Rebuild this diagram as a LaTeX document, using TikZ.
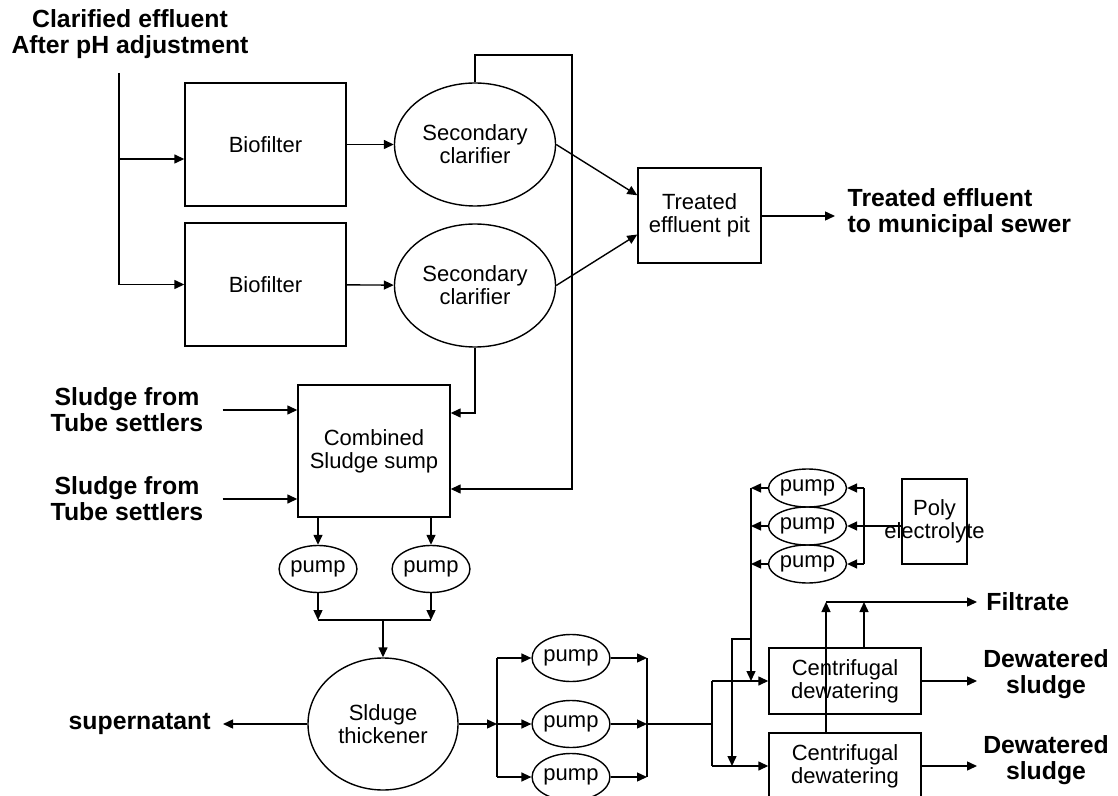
\documentclass[tikz,border=0pt]{standalone}
\usepackage{fontspec}
\setmainfont{Liberation Sans}
\usetikzlibrary{shapes.geometric,arrows.meta,calc}

\tikzset{
  box/.style={draw, rectangle, inner sep=1pt, align=center, font=\fontsize{11}{11.6}\selectfont},
  vessel/.style={draw, ellipse, inner sep=0pt, align=center, font=\fontsize{11}{11.6}\selectfont},
  pumpnode/.style={draw, ellipse, inner sep=0pt, minimum width=38pt, minimum height=23.5pt, font=\fontsize{11}{11.6}\selectfont},
  smallpump/.style={draw, ellipse, inner sep=0pt, minimum width=28.5pt, minimum height=19pt, font=\fontsize{11}{11.6}\selectfont},
  lbl/.style={align=center, font=\fontsize{12.4}{13}\selectfont\bfseries},
  flow/.style={-{Triangle[length=5pt,width=4.5pt]}}
}

\begin{document}
\begin{tikzpicture}[x=0.5pt, y=-0.5pt, line width=0.7pt]
    \useasboundingbox (0,0) rectangle (1118,796);
    \def\bfw{80.5pt}
    \def\bfh{61.5pt}
    % biological treatment
    \node[lbl] (source) at (130,34) {Clarified effluent\\After pH adjustment};
    \coordinate (feed) at (119,73);
    \node[box, minimum width=\bfw, minimum height=\bfh] (bf1) at (265.5,144.5) {Biofilter};
    \node[box, minimum width=\bfw, minimum height=\bfh] (bf2) at (265.5,284.5) {Biofilter};
    \node[vessel, minimum width=\bfw, minimum height=\bfh] (sc1) at (475,144.5) {Secondary\\clarifier};
    \node[vessel, minimum width=\bfw, minimum height=\bfh] (sc2) at (475,285.5) {Secondary\\clarifier};
    \node[box, minimum width=61.5pt, minimum height=47.5pt] (pit) at (699.5,215.5) {Treated\\effluent pit};
    \node[lbl, anchor=west, align=left, inner sep=0pt] (sewer) at (847,213) {Treated effluent\\to municipal sewer};
    \coordinate (bf1in) at ($(bf1.west)+(0,14.5)$);
    \coordinate (sewerin) at (835,216);
    \draw[flow] (feed) |- (bf2.west);
    \draw[flow] (feed |- bf1in) -- (bf1in);
    \draw[flow] (bf1) -- (sc1);
    \draw[flow] (bf2) -- (sc2);
    \draw[flow] (sc1.east) -- (pit.162);
    \draw[flow] (sc2.east) -- (pit.197);
    \draw[flow] (pit.east |- sewerin) -- (sewerin);

    % sludge handling
    \node[box, minimum width=76pt, minimum height=66pt] (sump) at (374,451) {Combined\\Sludge sump};
    \node[lbl] (tube1) at (127,410) {Sludge from\\Tube settlers};
    \node[lbl] (tube2) at (127,499) {Sludge from\\Tube settlers};
    \coordinate (topbend) at (572,55);
    \coordinate (sumpin1) at ($(sump.east)+(0,-38)$);
    \coordinate (sumpin2) at ($(sump.east)+(0,38)$);
    \draw[flow] (sc1.north) -- (sc1.north |- topbend) -- (topbend) -- (topbend |- sumpin2) -- (sumpin2);
    \draw[flow] (sc2.south) |- (sumpin1);
    \draw[flow] ([xshift=6pt]tube1.east) -- (tube1.east -| sump.west);
    \draw[flow] ([xshift=6pt]tube2.east) -- (tube2.east -| sump.west);

    \node[pumpnode] (pumpA) at (318,569) {pump};
    \node[pumpnode] (pumpB) at (431,569) {pump};
    \node[vessel, minimum width=75pt, minimum height=66pt] (thick) at (383,724) {Slduge\\thickener};
    \node[lbl, anchor=east] (super) at (218,724) {supernatant};
    \coordinate (merge) at (383,620);
    \draw[flow] (sump.south -| pumpA) -- (pumpA);
    \draw[flow] (sump.south -| pumpB) -- (pumpB);
    \draw[flow] (pumpA) -- (pumpA |- merge);
    \draw[flow] (pumpB) -- (pumpB |- merge);
    \draw (pumpA |- merge) -- (pumpB |- merge);
    \draw[flow] (merge) -- (thick);
    \draw[flow] (thick.west) -- ([xshift=2.5pt]super.east);

    % dewatering
    \node[pumpnode] (p1) at (571,658) {pump};
    \node[pumpnode] (p2) at (571,724) {pump};
    \node[pumpnode] (p3) at (571,777) {pump};
    \coordinate (split) at (497,724);
    \coordinate (collect) at (647,724);
    \coordinate (fork) at (712,724);
    \draw[flow] (thick.east) -- (split);
    \draw (split |- p1) -- (split |- p3);
    \foreach \p in {p1,p2,p3} {
      \draw[flow] (split |- \p) -- (\p);
      \draw[flow] (\p) -- (collect |- \p);
    }
    \draw (collect |- p1) -- (collect |- p3);
    \draw (collect) -- (fork);

    \node[box, minimum width=76pt, minimum height=33pt] (dw1) at (845,681) {Centrifugal\\dewatering};
    \node[box, minimum width=76pt, minimum height=33pt] (dw2) at (845,766) {Centrifugal\\dewatering};
    \draw (fork |- dw1) -- (fork |- dw2);
    \draw[flow] (fork |- dw1) -- (dw1);
    \draw[flow] (fork |- dw2) -- (dw2);

    \node[smallpump] (sp1) at (807.5,488) {pump};
    \node[smallpump] (sp2) at (807.5,526) {pump};
    \node[smallpump] (sp3) at (807.5,564) {pump};
    \node[box, minimum width=32.5pt, minimum height=42.5pt] (poly) at (934.5,521.5) {};
    \node[align=center, inner sep=0pt, font=\fontsize{11}{11.6}\selectfont] (polytext) at (poly) {Poly\\electrolyte};
    \coordinate (polybus) at (864,526);
    \coordinate (dose) at (751,639);
    \coordinate (dose2) at (732,639);
    \draw[flow] (poly.west |- sp2) -- (sp2);
    \draw (polybus |- sp1) -- (polybus |- sp3);
    \draw[flow] (polybus |- sp1) -- (sp1);
    \draw[flow] (polybus |- sp3) -- (sp3);
    \foreach \s in {sp1,sp2,sp3}
      \draw[flow] (\s) -- (dose |- \s);
    \draw[flow] (dose |- sp1) -- (dose |- dw1);
    \draw[flow] (dose) -- (dose2) -- (dose2 |- dw2);

    \node[lbl, anchor=west] (filtrate) at (979,602) {Filtrate};
    \node[lbl] (cake1) at (1046,674.5) {Dewatered\\sludge};
    \node[lbl] (cake2) at (1046,760.5) {Dewatered\\sludge};
    \coordinate (filt) at (977,602);
    \coordinate (riser1) at ($(dw1.north)+(19,0)$);
    \coordinate (riser2) at ($(dw2.north)+(-19,0)$);
    \draw[flow] (riser2) -- (riser2 |- filt);
    \draw[flow] (riser1) -- (riser1 |- filt);
    \draw[flow] (riser2 |- filt) -- (filt);
    \draw[flow] (dw1.east) -- (dw1.east -| filt);
    \draw[flow] (dw2.east) -- (dw2.east -| filt);
\end{tikzpicture}
\end{document}
